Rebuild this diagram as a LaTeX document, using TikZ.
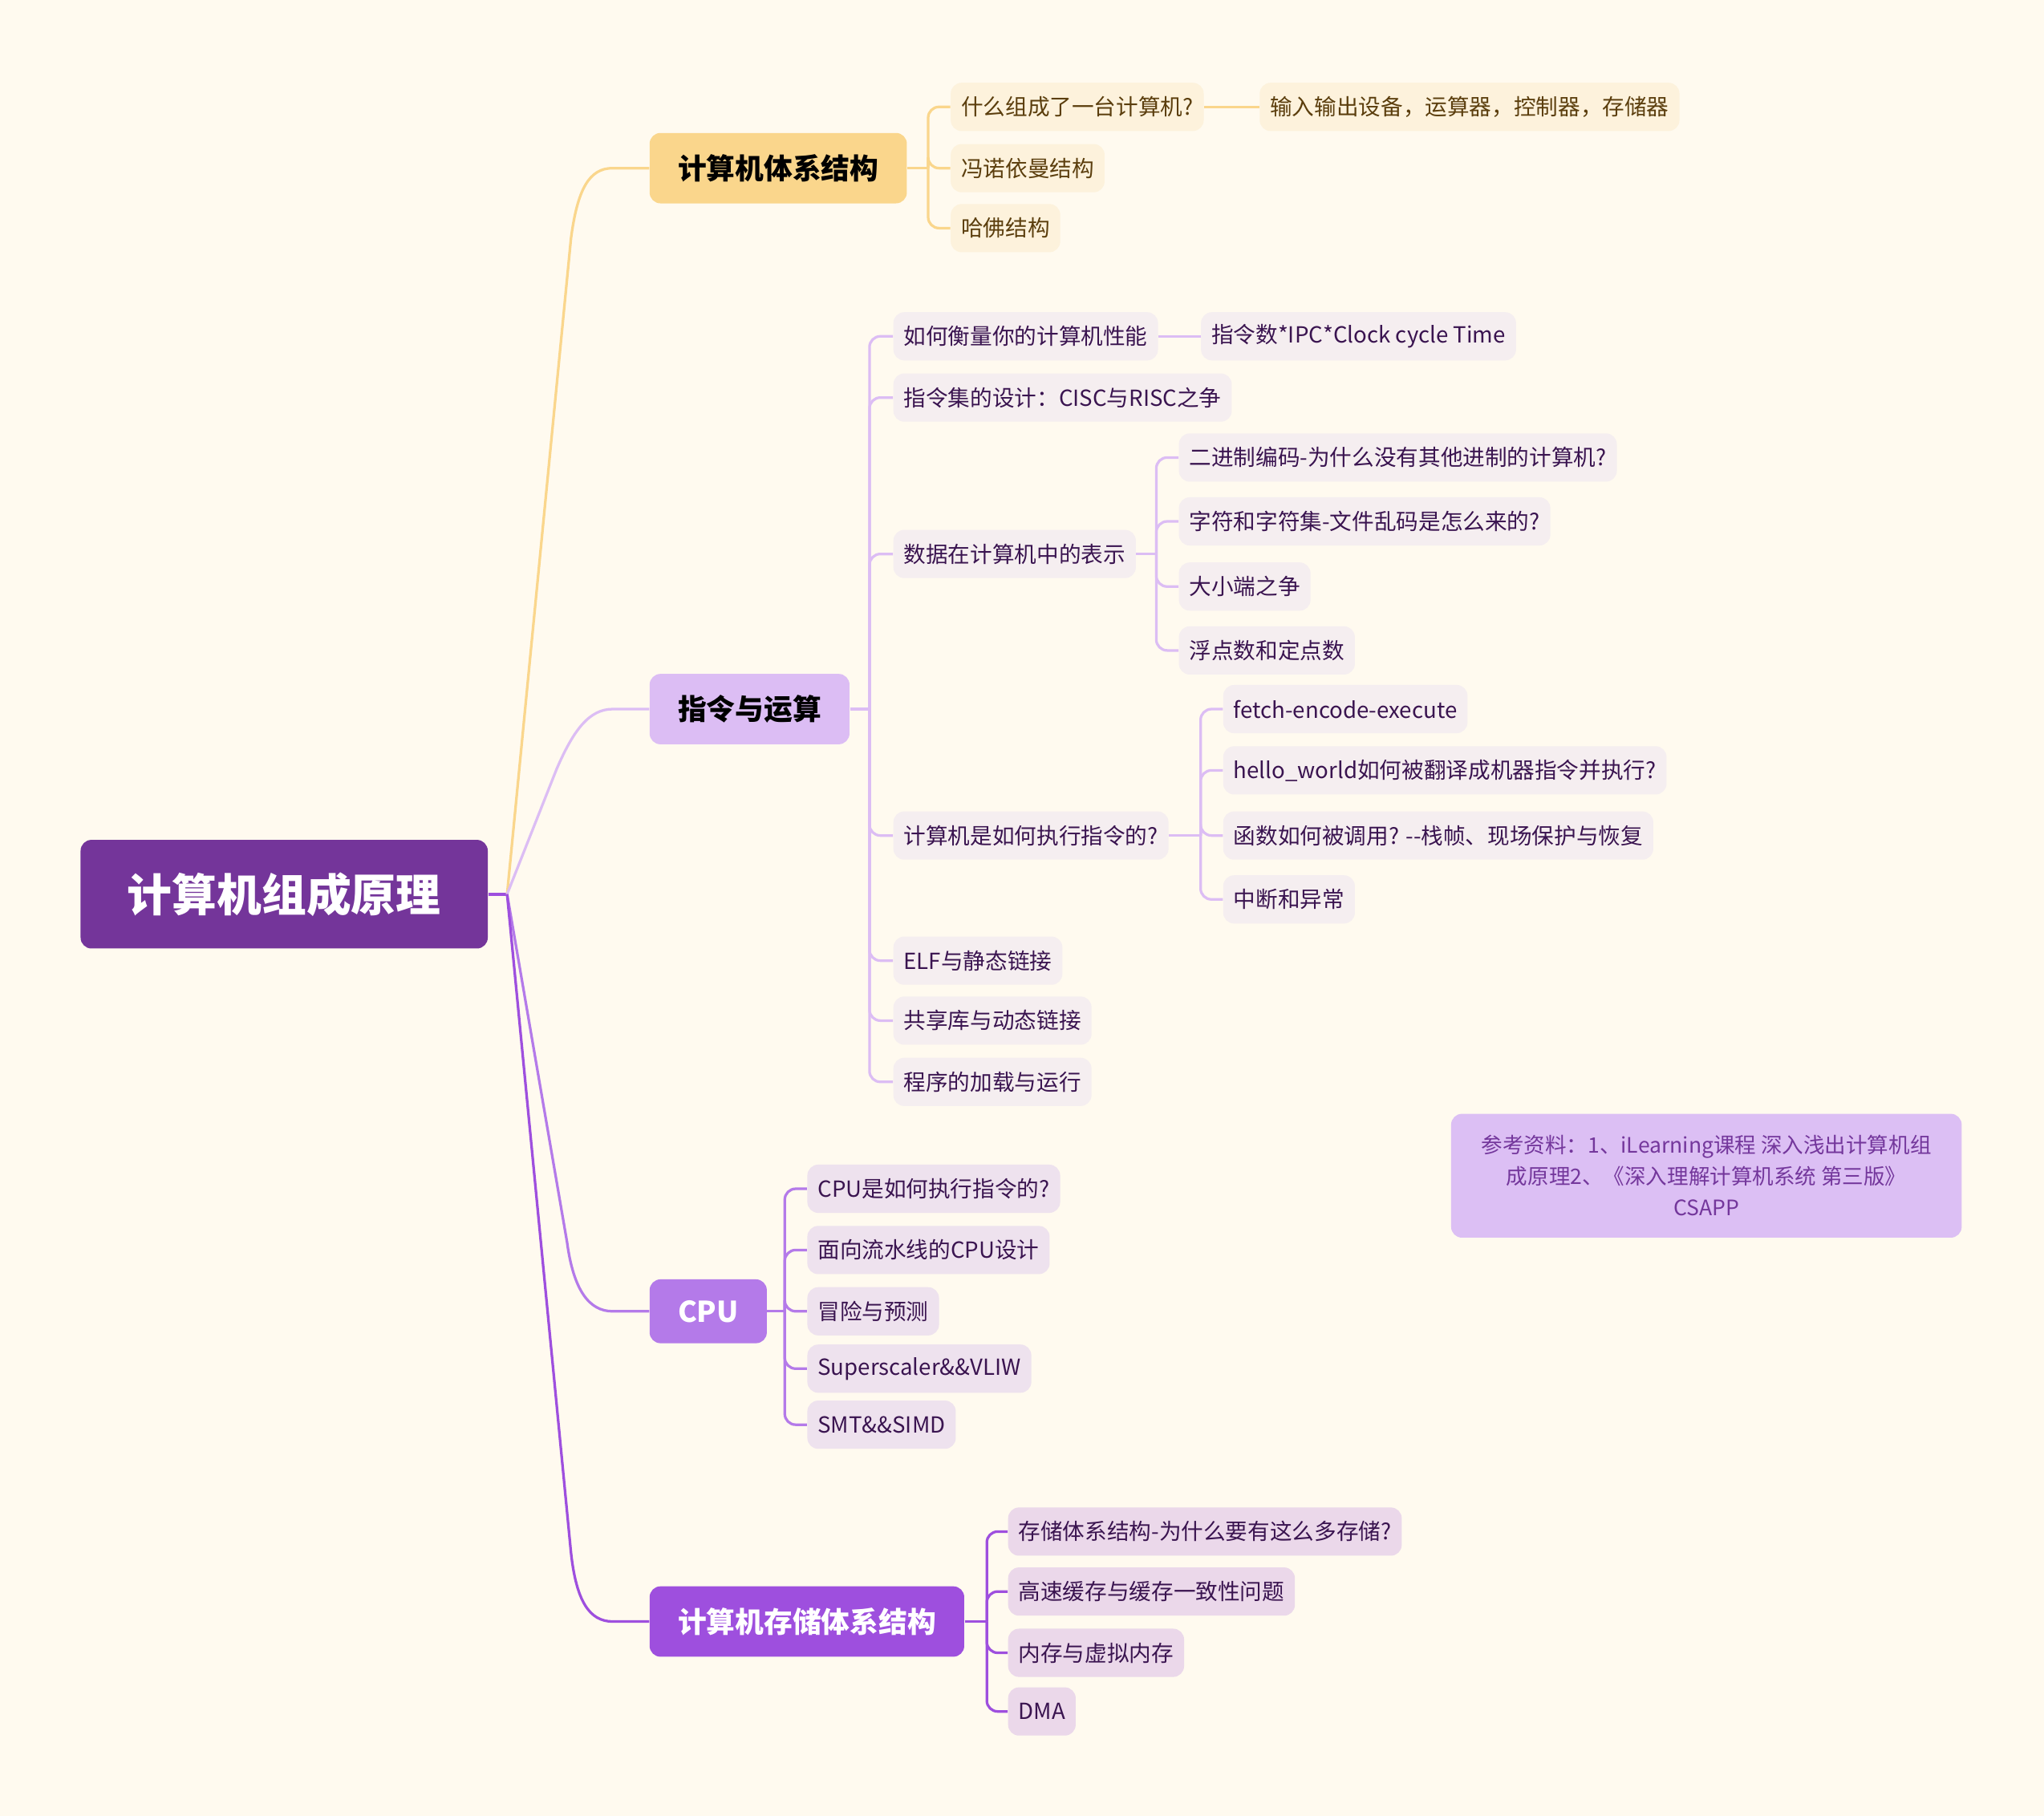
\documentclass[tikz,border=0pt]{standalone}
\usepackage{fontspec}
\setmainfont{Noto Sans CJK SC}
\usetikzlibrary{positioning}
\definecolor{paper}{HTML}{FFFAEF}
\definecolor{rootc}{HTML}{74359A}
\definecolor{orgtop}{HTML}{FAD68C}
\definecolor{orgsub}{HTML}{FDF2DC}
\definecolor{orgtxt}{HTML}{5B3E0D}
\definecolor{liltop}{HTML}{DCBDF4}
\definecolor{lilsub}{HTML}{F5EEF0}
\definecolor{cputop}{HTML}{B47AE9}
\definecolor{cpusub}{HTML}{EEE2EE}
\definecolor{memtop}{HTML}{9E4FDE}
\definecolor{memsub}{HTML}{EBD8EA}
\definecolor{subtxt}{HTML}{3A1450}
\definecolor{notefill}{HTML}{DCBFF4}
\definecolor{notetxt}{HTML}{74379C}

\begin{document}
\begin{tikzpicture}[
  x=0.6pt, y=-0.6pt,
  rootbox/.style={fill=rootc, text=white, rounded corners=5pt, inner xsep=21.6pt,
                  minimum height=50pt, font=\fontsize{20.6}{24}\selectfont\bfseries},
  topic/.style={rounded corners=5pt, inner xsep=13pt, minimum height=32.4pt,
                anchor=west, font=\fontsize{13.2}{16}\selectfont\bfseries},
  sub/.style={rounded corners=5pt, inner xsep=4.8pt, minimum height=22.2pt,
              anchor=west, text=subtxt, font=\fontsize{10.2}{12}\selectfont},
  osub/.style={sub, fill=orgsub, text=orgtxt},
  isub/.style={sub, fill=lilsub},
  csub/.style={sub, fill=cpusub},
  msub/.style={sub, fill=memsub},
  note/.style={fill=notefill, text=notetxt, rounded corners=5pt, align=center,
               minimum width=235pt, minimum height=57pt,
               font=\fontsize{9.8}{14.4}\selectfont},
  lnk/.style={line width=1.2pt, rounded corners=5pt},
  trunk/.style={line width=1.2pt},
]
\useasboundingbox[fill=paper] (0,0) rectangle (1568,1393);

% root and main topics
\node[rootbox] (root) at (218,686) {计算机组成原理};
\coordinate (rj) at (389,686);

\node[topic, fill=orgtop] (arch) at (498,129) {计算机体系结构};
\node[topic, fill=liltop] (instr) at (498,544) {指令与运算};
\node[topic, fill=cputop, text=white, minimum height=29.4pt] (cpu) at (498,1006) {CPU};
\node[topic, fill=memtop, text=white] (mem) at (498,1244) {计算机存储体系结构};

\draw[line width=1.5pt, memtop] (root.east) -- (rj);
\draw[trunk, orgtop] (rj) -- (438,183) .. controls (443,145) and (452,129) .. (470,129) -- (arch.west);
\draw[trunk, liltop] (rj) -- (427,590) .. controls (440,560) and (452,544) .. (470,544) -- (instr.west);
\draw[trunk, cputop] (rj) -- (435,953) .. controls (440,990) and (452,1006) .. (470,1006) -- (cpu.west);
\draw[trunk, memtop] (rj) -- (438,1191) .. controls (442,1228) and (452,1244) .. (470,1244) -- (mem.west);

% computer architecture
\node[osub] (a1) at (729,82) {什么组成了一台计算机?};
\node[osub] (a2) at (729,129) {冯诺依曼结构};
\node[osub] (a3) at (729,175) {哈佛结构};
\node[osub] (a11) at (966,82) {输入输出设备，运算器，控制器，存储器};
\coordinate (ba) at (712,129);
\draw[lnk, orgtop] (arch.east) -- (ba);
\foreach \n in {a1,a2,a3} \draw[lnk, orgtop] (ba) |- (\n.west);
\draw[lnk, orgtop] (a1.east) -- (a11.west);

% instructions and arithmetic
\node[isub] (i1) at (685,258) {如何衡量你的计算机性能};
\node[isub] (i11) at (921,258) {指令数*IPC*Clock cycle Time};
\node[isub] (i2) at (685,305) {指令集的设计：CISC与RISC之争};
\node[isub] (i3) at (685,425) {数据在计算机中的表示};
\node[isub] (i31) at (904,351) {二进制编码-为什么没有其他进制的计算机?};
\node[isub] (i32) at (904,400) {字符和字符集-文件乱码是怎么来的?};
\node[isub] (i33) at (904,450) {大小端之争};
\node[isub] (i34) at (904,499) {浮点数和定点数};
\node[isub] (i4) at (685,641) {计算机是如何执行指令的?};
\node[isub] (i41) at (938,544) {fetch-encode-execute};
\node[isub] (i42) at (938,591) {hello\_world如何被翻译成机器指令并执行?};
\node[isub] (i43) at (938,641) {函数如何被调用? {-}{-}栈帧、现场保护与恢复};
\node[isub] (i44) at (938,690) {中断和异常};
\node[isub] (i5) at (685,737) {ELF与静态链接};
\node[isub] (i6) at (685,783) {共享库与动态链接};
\node[isub] (i7) at (685,830) {程序的加载与运行};
\coordinate (bi) at (667,544);
\coordinate (bi3) at (887,425);
\coordinate (bi4) at (921,641);
\draw[lnk, liltop] (instr.east) -- (bi);
\foreach \n in {i1,i2,i3,i4,i5,i6,i7} \draw[lnk, liltop] (bi) |- (\n.west);
\draw[lnk, liltop] (i1.east) -- (i11.west);
\draw[lnk, liltop] (i3.east) -- (bi3);
\foreach \n in {i31,i32,i33,i34} \draw[lnk, liltop] (bi3) |- (\n.west);
\draw[lnk, liltop] (i4.east) -- (bi4);
\foreach \n in {i41,i42,i43,i44} \draw[lnk, liltop] (bi4) |- (\n.west);

% cpu
\node[csub] (c1) at (619,912) {CPU是如何执行指令的?};
\node[csub] (c2) at (619,959) {面向流水线的CPU设计};
\node[csub] (c3) at (619,1006) {冒险与预测};
\node[csub] (c4) at (619,1050) {Superscaler\&\&VLIW};
\node[csub] (c5) at (619,1093) {SMT\&\&SIMD};
\coordinate (bc) at (602,1006);
\draw[lnk, cputop] (cpu.east) -- (bc);
\foreach \n in {c1,c2,c3,c4,c5} \draw[lnk, cputop] (bc) |- (\n.west);

% memory hierarchy
\node[msub] (m1) at (773,1175) {存储体系结构-为什么要有这么多存储?};
\node[msub] (m2) at (773,1221) {高速缓存与缓存一致性问题};
\node[msub] (m3) at (773,1268) {内存与虚拟内存};
\node[msub] (m4) at (773,1313) {DMA};
\coordinate (bm) at (757,1244);
\draw[lnk, memtop] (mem.east) -- (bm);
\foreach \n in {m1,m2,m3,m4} \draw[lnk, memtop] (bm) |- (\n.west);

% references
\node[note] (refs) at (1309,902) {参考资料：1、iLearning课程 深入浅出计算机组\\成原理2、《深入理解计算机系统 第三版》\\CSAPP};
\end{tikzpicture}
\end{document}
